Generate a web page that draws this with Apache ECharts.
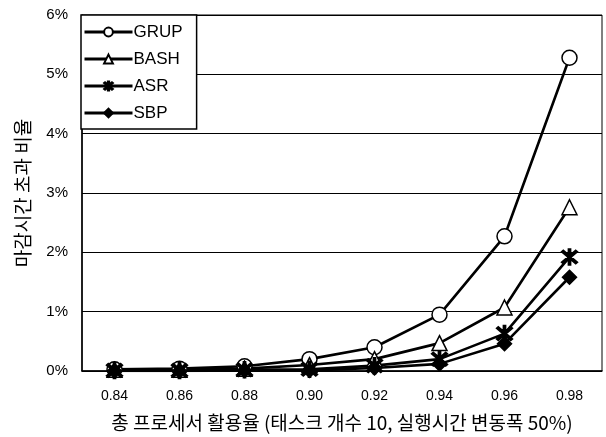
<!DOCTYPE html>
<html><head><meta charset="utf-8">
<script src="https://cdn.jsdelivr.net/npm/echarts@6/dist/echarts.min.js"></script>
<style>html,body{margin:0;padding:0;background:#fff}#c{width:606px;height:437px}</style>
</head><body><div id="c"></div>
<script>
const categories = ['0.84','0.86','0.88','0.90','0.92','0.94','0.96','0.98'];
const grup = [0.03, 0.04, 0.08, 0.20, 0.40, 0.95, 2.27, 5.28];
const bash = [0.02, 0.02, 0.04, 0.10, 0.20, 0.47, 1.07, 2.76];
const asr  = [0.01, 0.01, 0.02, 0.03, 0.09, 0.20, 0.63, 1.92];
const sbp  = [0.00, 0.00, 0.01, 0.01, 0.05, 0.12, 0.46, 1.58];
const yTicks = ['0%','1%','2%','3%','4%','5%','6%'];

const asterisk = 'path://M-1.2,-10 L1.2,-10 L1.2,10 L-1.2,10 Z M-8.5,-6.6 L-6.6,-8.5 L8.5,6.6 L6.6,8.5 Z M6.6,-8.5 L8.5,-6.6 L-6.6,8.5 L-8.5,6.6 Z';
const font = '"Liberation Sans", Arial, sans-serif';
const kfont = '"Noto Sans CJK KR", sans-serif';
function mk(name, data, symbol, size, fill) {
  return {
    name, type: 'line', data, symbol, symbolSize: size, showAllSymbol: true,
    smooth: false,
    lineStyle: { color: '#000', width: 2.6 },
    itemStyle: { color: fill, borderColor: '#000', borderWidth: 1.5 },
    emphasis: { disabled: true }
  };
}
const chart = echarts.init(document.getElementById('c'));
chart.setOption({
  animation: false,
  backgroundColor: '#fff',
  grid: { left: 82, right: 4, top: 15, bottom: 65, show: true, borderColor: '#000', borderWidth: 1 },
  legend: {
    orient: 'vertical', left: 81, top: 15, padding: [8, 14, 7, 2],
    backgroundColor: '#fff', borderColor: '#000', borderWidth: 1.5,
    itemWidth: 48, itemHeight: 11, itemGap: 9,
    lineStyle: { width: 3 },
    textStyle: { fontFamily: font, fontSize: 17, lineHeight: 18, color: '#000', padding: [0,0,0,-4] },
    data: ['GRUP','BASH','ASR','SBP']
  },
  xAxis: {
    type: 'category', data: categories, boundaryGap: true,
    name: '총 프로세서 활용율 (태스크 개수 10, 실행시간 변동폭 50%)',
    nameLocation: 'middle', nameGap: 42,
    nameTextStyle: { fontFamily: kfont, fontSize: 19, color: '#000' },
    axisLine: { lineStyle: { color: '#000', width: 1.5 } },
    axisTick: { inside: true, length: 5, lineStyle: { color: '#000' } },
    axisLabel: { fontFamily: font, fontSize: 14, color: '#000', margin: 18 }
  },
  yAxis: {
    type: 'value', min: 0, max: 6, interval: 1,
    name: '마감시간 초과 비율', nameLocation: 'middle', nameGap: 50,
    nameTextStyle: { fontFamily: kfont, fontSize: 19, color: '#000' },
    axisLine: { show: true, lineStyle: { color: '#000', width: 1.5 } },
    axisTick: { show: false },
    axisLabel: { fontFamily: font, fontSize: 15, color: '#000', margin: 14,
      formatter: (v) => yTicks[Math.round(v)] },
    splitLine: { lineStyle: { color: '#000', width: 1.2 } }
  },
  series: [
    mk('GRUP', grup, 'circle', 15, '#fff'),
    mk('BASH', bash, 'triangle', 15, '#fff'),
    mk('ASR', asr, asterisk, 16, '#000'),
    mk('SBP', sbp, 'diamond', 14, '#000')
  ]
});
</script></body></html>
